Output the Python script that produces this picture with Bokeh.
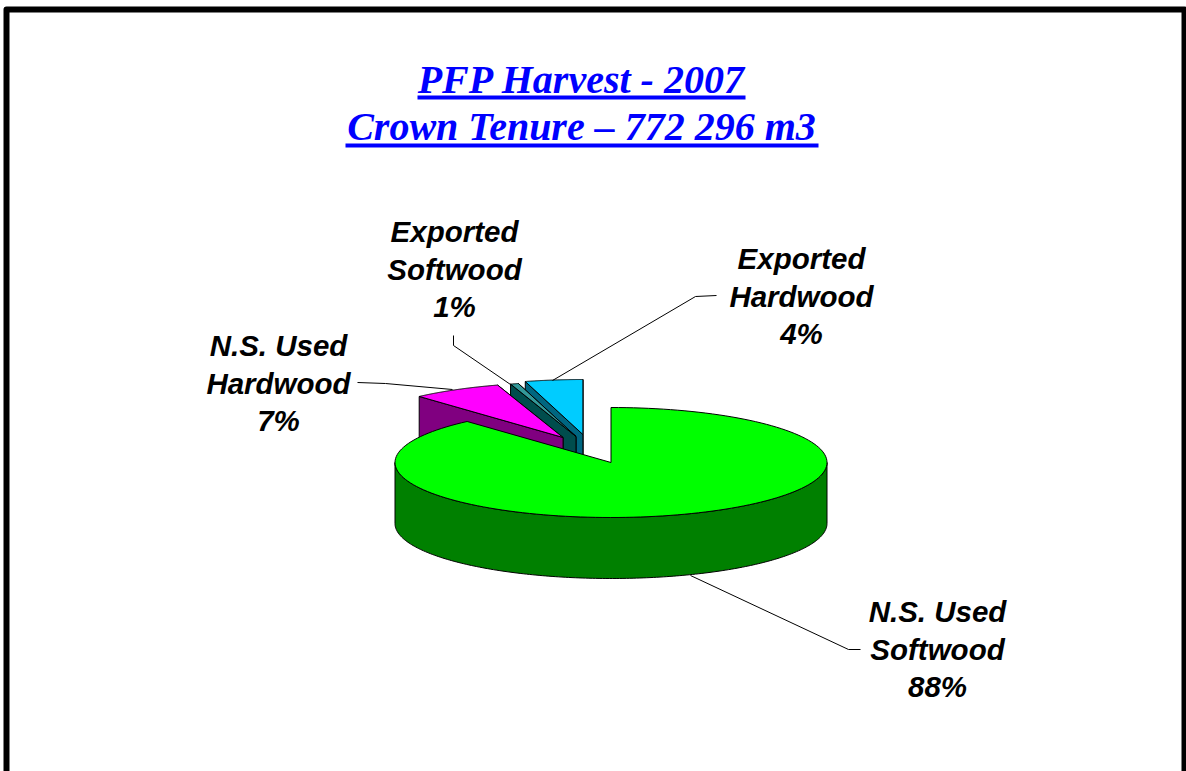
import numpy as np
from bokeh.plotting import figure
from bokeh.embed import file_html
from bokeh.resources import INLINE
from bokeh.core.properties import value

title_lines = ["PFP Harvest - 2007", "Crown Tenure \u2013 772 296 m3"]
categories = ["N.S. Used\nSoftwood", "N.S. Used\nHardwood", "Exported\nSoftwood", "Exported\nHardwood"]
shares = [88.4, 6.7, 0.6, 4.3]
top_colors = ["#00FF00", "#FF00FF", "#339999", "#00CCFF"]
side_colors = ["#008000", "#800080", "#004D4D", "#006680"]
# explode offsets of each wedge, in fractions of the radii
explode_x = [0.0, -0.222, -0.162, -0.130]
explode_y = [0.0, -0.455, -0.473, -0.509]
label_x = [937, 278, 454, 801]
label_y = [611, 345, 231, 258]
leaders = [
    ([690, 848, 860], [575, 649, 649]),
    ([357, 385, 452], [382, 383, 389]),
    ([453, 453, 510], [335, 345, 384]),
    ([716, 695, 552], [295, 296, 380]),
]

W, H = 1186, 771
CX, CY, RX, RY, DEPTH = 610.5, 462, 216, 55, 61

p = figure(width=W, height=H, x_range=(0, W), y_range=(H, 0), output_backend="svg",
           toolbar_location=None, min_border=0,
           background_fill_color="white", border_fill_color="white", outline_line_color=None)
p.axis.visible = False
p.grid.visible = False

# frame
p.line([6, 6, 1184, 1184], [H + 20, 9, 9, H + 20], line_color="black", line_width=6, line_join="round")

fractions = np.cumsum([0] + shares) / sum(shares)
def arc(a0, a1, n=160):
    t = np.linspace(a0, a1, n) * 2 * np.pi
    return np.sin(t), -np.cos(t)

# paint from the back wedges to the front one
for i in [3, 2, 1, 0]:
    ox, oy = CX + explode_x[i] * RX, CY + explode_y[i] * RY
    ux, uy = arc(fractions[i], fractions[i + 1])
    ax, ay = ox + ux * RX, oy + uy * RY
    if i > 0:
        # cut faces of the exploded wedge
        p.patch([ox, ax[-1], ax[-1], ox], [oy, ay[-1], ay[-1] + DEPTH, oy + DEPTH],
                fill_color=side_colors[i], line_color="black", line_width=1)
        p.patch([ox, ax[0], ax[0], ox], [oy, ay[0], ay[0] + DEPTH, oy + DEPTH],
                fill_color=side_colors[i], line_color="black", line_width=1)
    else:
        # rim of the big wedge: the front half of the ellipse extruded
        t = np.linspace(np.pi / 2, 3 * np.pi / 2, 200)
        sx, sy = ox + np.sin(t) * RX, oy - np.cos(t) * RY
        p.patch(np.r_[sx, sx[::-1]], np.r_[sy, sy[::-1] + DEPTH],
                fill_color=side_colors[i], line_color="black", line_width=1)
    p.patch(np.r_[ox, ax], np.r_[oy, ay], fill_color=top_colors[i], line_color="black", line_width=1)

# leader lines
for lx, ly in leaders:
    p.line(lx, ly, line_color="black", line_width=1)

# labels
for name, share, x, y in zip(categories, shares, label_x, label_y):
    for k, line in enumerate(name.split("\n") + [f"{round(share)}%"]):
        p.text([x], [y + k * 37.5], text=[line], text_align="center", text_baseline="middle",
               text_font=value("Liberation Sans"), text_font_style="bold italic",
               text_font_size="29.5px", text_color="black")

# title
for line, y, y_rule, x0, x1 in zip(title_lines, [79, 126], [97, 145], [417, 345], [745, 818]):
    p.text([581], [y], text=[line], text_align="center", text_baseline="middle",
           text_font=value("Liberation Serif"), text_font_style="bold italic",
           text_font_size="40px", text_color="#0000FF")
    p.line([x0, x1], [y_rule, y_rule], line_color="#0000FF", line_width=4)

open("out.html", "w").write(file_html(p, INLINE))
